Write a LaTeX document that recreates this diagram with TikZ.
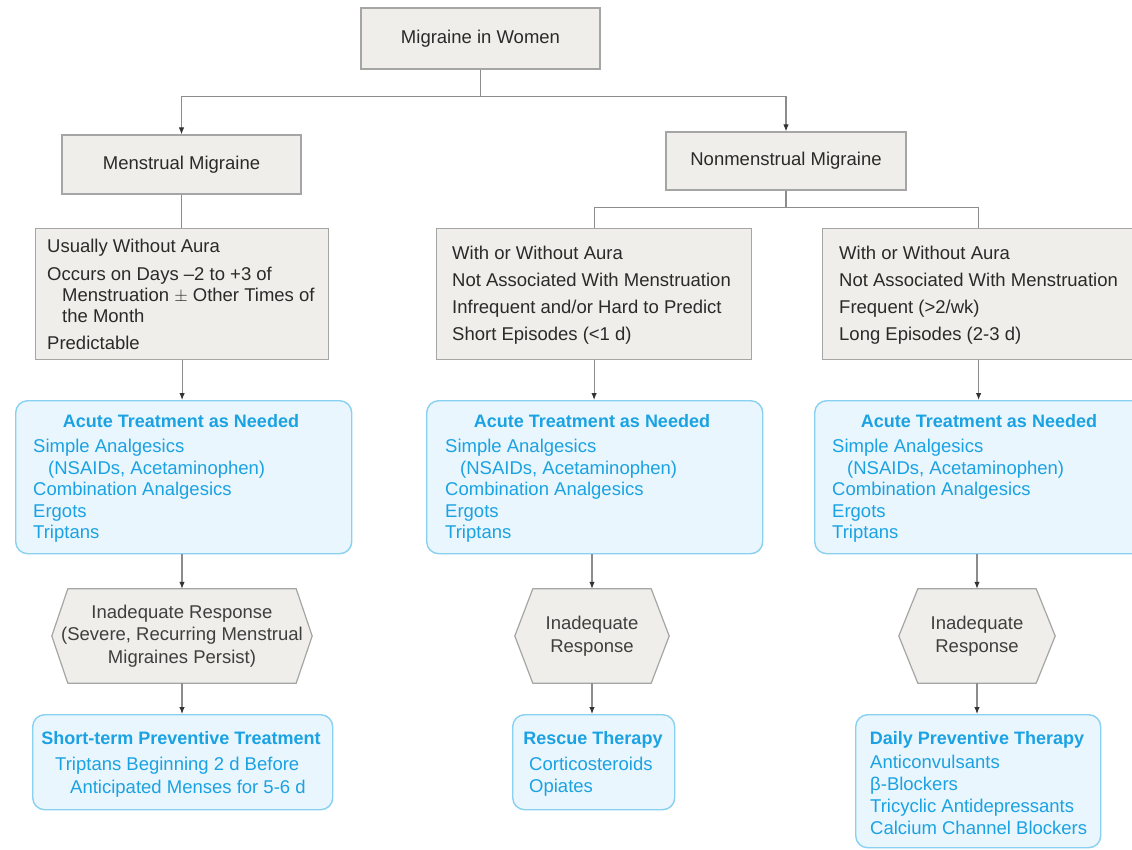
\documentclass[tikz,border=0pt]{standalone}
\usepackage{fontspec}
\setmainfont{Liberation Sans}
\usetikzlibrary{arrows.meta,backgrounds,calc}
\definecolor{gfill}{HTML}{EFEEEA}
\definecolor{gline}{HTML}{A5A5A5}
\definecolor{bfill}{HTML}{EAF6FD}
\definecolor{bline}{HTML}{88D1F1}
\definecolor{btext}{HTML}{1AA2E2}
\definecolor{conn}{HTML}{8C8C8C}
\definecolor{gtext}{HTML}{2A2A2A}
\tikzset{
  graybox/.style={draw=gline, fill=gfill, line width=1.2pt, inner sep=0pt},
  bluebox/.style={draw=bline, fill=bfill, line width=1.4pt, rounded corners=12pt, inner sep=0pt},
  txt/.style={font=\fontsize{18.5}{22.5}\selectfont, inner sep=0pt, text=gtext},
  btxt/.style={font=\fontsize{18.5}{22}\selectfont, inner sep=0pt, text=btext},
  bhead/.style={font=\fontsize{18}{22}\selectfont\bfseries, inner sep=0pt, text=btext},
  hexnode/.style={txt, align=center, text=gtext!90},
  hexline/.style={draw=gline, fill=gfill, line width=1.2pt},
  link/.style={draw=conn, line width=1.1pt},
  arr/.style={link, -{Latex[length=7pt,width=5.5pt,color=black!80]}},
}
\begin{document}
\begin{tikzpicture}[x=1pt,y=-1pt]
\useasboundingbox (0,0) rectangle (1132,849);
\clip (0,0) rectangle (1132,849);
\begin{scope}[on background layer]
  \fill[white] (0,0) rectangle (1132,849);
\end{scope}

% top level
\node[graybox, txt, minimum width=239pt, minimum height=61pt] (top) at (480.5,38.5) {Migraine in Women};
\node[graybox, txt, minimum width=239pt, minimum height=59pt] (mens) at (181.5,164.5) {Menstrual Migraine};
\node[graybox, txt, minimum width=240pt, minimum height=58pt] (nonmens) at (786,161) {Nonmenstrual Migraine};

% description boxes
\node[graybox, anchor=north west, minimum width=293pt, minimum height=131pt] (descL) at (35,228) {};
\node[graybox, anchor=north west, minimum width=315pt, minimum height=131pt] (descM) at (436,228) {};
\node[graybox, anchor=north west, minimum width=312pt, minimum height=131pt] (descR) at (822,228) {};

\node[txt, anchor=base west] (dL1) at (47,252) {Usually Without Aura};
\node[txt, anchor=base west] (dL2) at (47,280) {Occurs on Days –2 to +3 of};
\node[txt, anchor=base west] (dL3) at (62,301) {Menstruation $\pm$ Other Times of};
\node[txt, anchor=base west] (dL4) at (62,322) {the Month};
\node[txt, anchor=base west] (dL5) at (47,349) {Predictable};

\node[txt, anchor=base west] (dM1) at (452,259) {With or Without Aura};
\node[txt, anchor=base west] (dM2) at (452,286) {Not Associated With Menstruation};
\node[txt, anchor=base west] (dM3) at (452,313) {Infrequent and/or Hard to Predict};
\node[txt, anchor=base west] (dM4) at (452,340) {Short Episodes (<1 d)};

\node[txt, anchor=base west] (dR1) at (839,259) {With or Without Aura};
\node[txt, anchor=base west] (dR2) at (839,286) {Not Associated With Menstruation};
\node[txt, anchor=base west] (dR3) at (839,313) {Frequent (>2/wk)};
\node[txt, anchor=base west] (dR4) at (839,340) {Long Episodes (2-3 d)};

% acute treatment boxes
\node[bluebox, anchor=north west, minimum width=336pt, minimum height=153pt] (acuteL) at (15,400) {};
\node[bluebox, anchor=north west, minimum width=336pt, minimum height=153pt] (acuteM) at (426,400) {};
\node[bluebox, anchor=north west, minimum width=350pt, minimum height=153pt] (acuteR) at (814,400) {};

\node[bhead, anchor=base] (aLh) at (181,427) {Acute Treatment as Needed};
\node[btxt, anchor=base west] (aL1) at (33,452) {Simple Analgesics};
\node[btxt, anchor=base west] (aL2) at (48,474) {(NSAIDs, Acetaminophen)};
\node[btxt, anchor=base west] (aL3) at (33,495) {Combination Analgesics};
\node[btxt, anchor=base west] (aL4) at (33,517) {Ergots};
\node[btxt, anchor=base west] (aL5) at (33,538) {Triptans};

\node[bhead, anchor=base] (aMh) at (592,427) {Acute Treatment as Needed};
\node[btxt, anchor=base west] (aM1) at (445,452) {Simple Analgesics};
\node[btxt, anchor=base west] (aM2) at (460,474) {(NSAIDs, Acetaminophen)};
\node[btxt, anchor=base west] (aM3) at (445,495) {Combination Analgesics};
\node[btxt, anchor=base west] (aM4) at (445,517) {Ergots};
\node[btxt, anchor=base west] (aM5) at (445,538) {Triptans};

\node[bhead, anchor=base] (aRh) at (979,427) {Acute Treatment as Needed};
\node[btxt, anchor=base west] (aR1) at (832,452) {Simple Analgesics};
\node[btxt, anchor=base west] (aR2) at (847,474) {(NSAIDs, Acetaminophen)};
\node[btxt, anchor=base west] (aR3) at (832,495) {Combination Analgesics};
\node[btxt, anchor=base west] (aR4) at (832,517) {Ergots};
\node[btxt, anchor=base west] (aR5) at (832,538) {Triptans};

% hexagons (response)
\node[hexnode, minimum width=260pt, minimum height=94pt] (hexL) at (182,636)
  {Inadequate Response\\(Severe, Recurring Menstrual\\Migraines Persist)};
\node[hexnode, minimum width=154pt, minimum height=94pt] (hexM) at (592,636)
  {Inadequate\\Response};
\node[hexnode, minimum width=156pt, minimum height=94pt] (hexR) at (977,636)
  {Inadequate\\Response};
\begin{scope}[on background layer]
  \draw[hexline] (hexL.west) -- ($(hexL.north west)+(16,0)$) -- ($(hexL.north east)+(-16,0)$)
     -- (hexL.east) -- ($(hexL.south east)+(-16,0)$) -- ($(hexL.south west)+(16,0)$) -- cycle;
  \draw[hexline] (hexM.west) -- ($(hexM.north west)+(18,0)$) -- ($(hexM.north east)+(-18,0)$)
     -- (hexM.east) -- ($(hexM.south east)+(-18,0)$) -- ($(hexM.south west)+(18,0)$) -- cycle;
  \draw[hexline] (hexR.west) -- ($(hexR.north west)+(19,0)$) -- ($(hexR.north east)+(-19,0)$)
     -- (hexR.east) -- ($(hexR.south east)+(-19,0)$) -- ($(hexR.south west)+(19,0)$) -- cycle;
\end{scope}

% bottom boxes
\node[bluebox, anchor=north west, minimum width=300pt, minimum height=95pt] (botL) at (32,714) {};
\node[bluebox, anchor=north west, minimum width=162pt, minimum height=95pt] (botM) at (512,714) {};
\node[bluebox, anchor=north west, minimum width=245pt, minimum height=133pt] (botR) at (855,714) {};

\node[bhead, anchor=base] (bLh) at (181,744) {Short-term Preventive Treatment};
\node[btxt, anchor=base west] (bL1) at (55,770) {Triptans Beginning 2 d Before};
\node[btxt, anchor=base west] (bL2) at (70,793) {Anticipated Menses for 5-6 d};

\node[bhead, anchor=base] (bMh) at (593,744) {Rescue Therapy};
\node[btxt, anchor=base west] (bM1) at (529,770) {Corticosteroids};
\node[btxt, anchor=base west] (bM2) at (529,792) {Opiates};

\node[bhead, anchor=base] (bRh) at (977,744) {Daily Preventive Therapy};
\node[btxt, anchor=base west] (bR1) at (870,768) {Anticonvulsants};
\node[btxt, anchor=base west] (bR2) at (870,790) {β-Blockers};
\node[btxt, anchor=base west] (bR3) at (870,812) {Tricyclic Antidepressants};
\node[btxt, anchor=base west] (bR4) at (870,834) {Calcium Channel Blockers};

% connectors
\draw[link] (top.south) -- ++(0,26.5) coordinate (j1);
\draw[arr] (j1) -| (mens.north);
\draw[arr] (j1) -| (nonmens.north);

\draw[link] (mens.south) -- (mens.south |- descL.north);
\draw[link] (nonmens.south) -- ++(0,17) coordinate (j2);
\draw[link] (j2) -| (descM.north);
\draw[link] (j2) -| (descR.north);

\draw[arr] (descL.south) -- (descL.south |- acuteL.north);
\draw[arr] (descM.south) -- (descM.south |- acuteM.north);
\draw[arr] (descR.south) -- (descR.south |- acuteR.north);

\draw[arr] (hexL.north |- acuteL.south) -- (hexL.north);
\draw[arr] (hexM.north |- acuteM.south) -- (hexM.north);
\draw[arr] (hexR.north |- acuteR.south) -- (hexR.north);

\draw[arr] (hexL.south) -- (hexL.south |- botL.north);
\draw[arr] (hexM.south) -- (hexM.south |- botM.north);
\draw[arr] (hexR.south) -- (hexR.south |- botR.north);
\end{tikzpicture}
\end{document}
